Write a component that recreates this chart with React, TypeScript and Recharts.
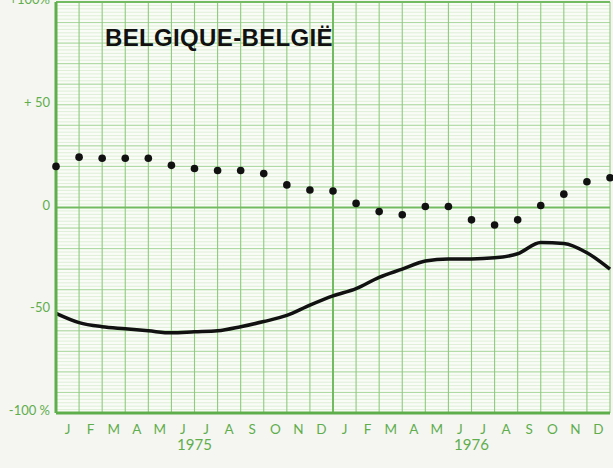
import React from "react";
import {
  ComposedChart,
  Line,
  XAxis,
  YAxis,
  CartesianGrid,
} from "recharts";

// Month letters (Jan 1975 .. Dec 1976)
const monthLetters = [
  "J", "F", "M", "A", "M", "J", "J", "A", "S", "O", "N", "D",
  "J", "F", "M", "A", "M", "J", "J", "A", "S", "O", "N", "D",
];
const yearLabels = ["1975", "1976"];
const yearTickPositions = [6, 18];

// Y tick values and labels
const yTickValues = [-100, -50, 0, 50, 100];
const yTickLabels = ["-100 %", "-50", "0", "+ 50", "+100%"];

// Dotted series (values at month boundaries, 25 points)
const dotValues = [
  20, 24.5, 24, 24, 24, 20.5, 19, 18, 18, 16.5, 11, 8.5, 8,
  2, -2, -3.5, 0.5, 0.5, -6, -8.5, -6, 1, 6.5, 12.5, 14.5,
];

// Solid line series
const lineValues = [
  -51.5, -56, -58, -59, -60, -61, -60.5, -60, -58, -55.5, -52.5, -47.5, -43,
  -39.5, -34, -30, -26, -25, -25, -24.5, -22.5, -17, -17.5, -22, -30,
];

const data = dotValues.map((d, i) => ({ x: i, dots: d, line: lineValues[i] }));

const monthTicks = monthLetters.map((_, i) => i + 0.5);
const xTicks = [...monthTicks, ...yearTickPositions];

const minorGrid = Array.from({ length: 121 }, (_, i) => -100 + (i * 5) / 3);
const tenGrid = Array.from({ length: 21 }, (_, i) => -100 + i * 10);
const monthGrid = Array.from({ length: 25 }, (_, i) => i);

const GREEN = "#5fae4c";
const FONT = "Lato, 'Open Sans', sans-serif";

const XTick = (props: any) => {
  const { x, y, payload } = props;
  const v = payload.value;
  const yi = yearTickPositions.indexOf(v);
  if (yi >= 0) {
    return (
      <text x={x} y={y + 35} textAnchor="middle" fill={GREEN} fontSize={15} fontFamily={FONT}>
        {yearLabels[yi]}
      </text>
    );
  }
  const idx = Math.floor(v);
  return (
    <text x={x} y={y + 19} textAnchor="middle" fill={GREEN} fontSize={13.5} fontFamily={FONT}>
      {monthLetters[idx]}
    </text>
  );
};

const YTick = (props: any) => {
  const { y, payload } = props;
  const i = yTickValues.indexOf(payload.value);
  return (
    <text x={50} y={y + 2} textAnchor="end" fill={GREEN} fontSize={13} fontFamily={FONT}>
      {yTickLabels[i]}
    </text>
  );
};

export default function App() {
  return (
    <div
      style={{
        position: "absolute",
        left: 0,
        top: 0,
        width: 613,
        height: 468,
        background: "#f5f5f2",
        overflow: "hidden",
      }}
    >
      <ComposedChart
        width={613}
        height={468}
        data={data}
        margin={{ top: 2, right: 3, bottom: 15, left: 0 }}
      >
        <CartesianGrid
          horizontalValues={minorGrid}
          vertical={false}
          stroke="#d2eaca"
          strokeWidth={0.7}
          fill="#fafcf7"
        />
        <CartesianGrid
          horizontalValues={tenGrid}
          vertical={false}
          stroke="#acd8a0"
          strokeWidth={1}
        />
        <CartesianGrid
          verticalValues={monthGrid}
          horizontal={false}
          stroke="#8ecb7d"
          strokeWidth={1.1}
        />
        <CartesianGrid
          horizontalValues={[0, 100]}
          verticalValues={[12]}
          stroke="#72bb60"
          strokeWidth={2}
        />
        <XAxis
          type="number"
          dataKey="x"
          domain={[0, 24]}
          ticks={xTicks}
          interval={0}
          tick={<XTick />}
          tickLine={false}
          tickSize={0}
          height={40}
          axisLine={{ stroke: GREEN, strokeWidth: 3 }}
        />
        <YAxis
          type="number"
          domain={[-100, 100]}
          ticks={yTickValues}
          interval={0}
          tick={<YTick />}
          tickLine={false}
          width={56}
          axisLine={{ stroke: GREEN, strokeWidth: 3 }}
        />
        <Line
          type="monotone"
          dataKey="line"
          stroke="#111"
          strokeWidth={3.5}
          dot={false}
          activeDot={false}
          isAnimationActive={false}
        />
        <Line
          dataKey="dots"
          stroke="none"
          dot={{ r: 3.8, fill: "#111", stroke: "none" }}
          activeDot={false}
          isAnimationActive={false}
        />
      </ComposedChart>
      <svg
        width={613}
        height={468}
        style={{ position: "absolute", left: 0, top: 0, pointerEvents: "none" }}
      >
        <text
          x={105}
          y={46}
          fontFamily="'Liberation Sans', Arial, sans-serif"
          fontWeight="bold"
          fontSize={24}
          letterSpacing={0.35}
          fill="#111"
        >
          BELGIQUE-BELGIË
        </text>
      </svg>
    </div>
  );
}
